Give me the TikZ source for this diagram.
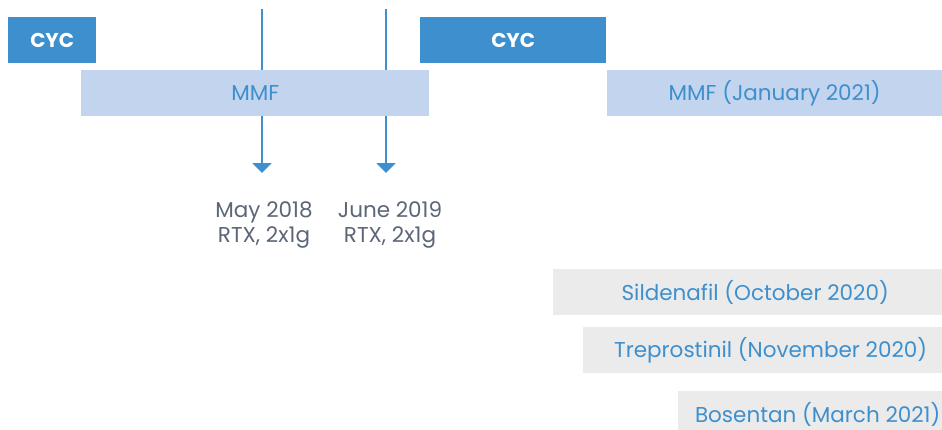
\documentclass[tikz,border=0pt]{standalone}
\usepackage{fontspec}
\setmainfont{Poppins}
\usetikzlibrary{arrows.meta,positioning}
\definecolor{cycblue}{HTML}{3E8FCD}
\definecolor{mmfblue}{HTML}{C3D5EE}
\definecolor{addgray}{HTML}{EBEBEB}
\definecolor{notegray}{HTML}{5B6676}

\begin{document}
\begin{tikzpicture}[x=1pt,y=-1pt,
  bar/.style={anchor=north west,minimum height=46pt,inner sep=0pt},
  cyc/.style={bar,fill=cycblue,text=white,font=\bfseries\fontsize{20}{24}\selectfont},
  mmf/.style={bar,fill=mmfblue,text=cycblue,font=\fontsize{21.5}{24}\selectfont},
  addon/.style={bar,fill=addgray,text=cycblue,font=\fontsize{21.5}{24}\selectfont},
  rtx/.style={->,>={Triangle[width=19pt,length=10pt]},cycblue,line width=2pt},
  note/.style={align=center,text=notegray,inner sep=0pt,font=\fontsize{21.5}{25}\selectfont}]
  \useasboundingbox (0,0) rectangle (942,429);
  \clip (0,0) rectangle (942,429);
  % rituximab courses, drawn first so the MMF bar hides them
  \coordinate (t1) at (262,9);   \coordinate (h1) at (262,173);
  \coordinate (t2) at (386,9);   \coordinate (h2) at (386,173);
  \draw[rtx] (t1) -- (h1);
  \draw[rtx] (t2) -- (h2);
  \node[note,below=28pt of h1,xshift=2pt] (may)  {May 2018\\RTX, 2x1g};
  \node[note,below=28pt of h2,xshift=4pt] (june) {June 2019\\RTX, 2x1g};
  % induction and maintenance
  \node[cyc,minimum width=88pt]  (cyc1) at (8,17)  {CYC};
  \node[cyc,minimum width=186pt] (cyc2) at (420,17) {CYC};
  \node[mmf,minimum width=348pt] (mmf1) at (81,70)  {MMF};
  \node[mmf,minimum width=335pt] (mmf2) at (607,70) {MMF (January 2021)};
  % vasodilators
  \node[addon,minimum width=404pt] (sil) at (553,269) {Sildenafil (October 2020)};
  \node[addon,minimum width=375pt] (tre) at (583,327) {Treprostinil (November 2020)};
  \node[addon,minimum width=279pt] (bos) at (678,391) {Bosentan (March 2021)};
\end{tikzpicture}
\end{document}
